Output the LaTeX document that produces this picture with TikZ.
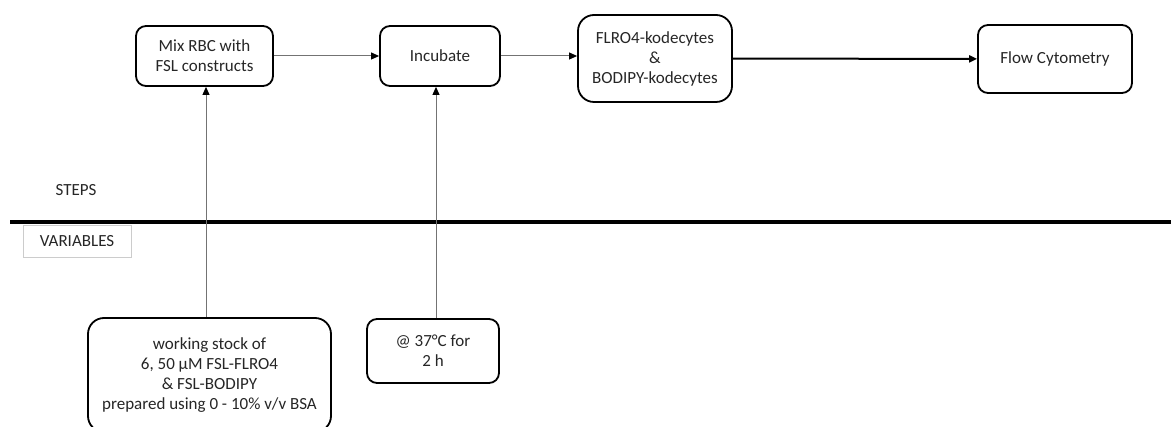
\documentclass[tikz,border=0pt]{standalone}
\usepackage{fontspec}
\setmainfont{Carlito}
\usetikzlibrary{arrows.meta}
\begin{document}
\begin{tikzpicture}[x=1pt,y=-1pt,
  every node/.style={font=\fontsize{17}{20}\selectfont, text=black!85, align=center, inner sep=0pt},
  stepbox/.style={draw=black, line width=1.8pt, rounded corners=10pt},
  bigbox/.style={draw=black, line width=1.8pt, rounded corners=16pt},
  thinlink/.style={draw=black!55, line width=1pt, -{Triangle[length=8pt,width=7pt,fill=black,color=black]}},
  thicklink/.style={draw=black, line width=2pt, -{Triangle[length=8pt,width=7pt]}}]
\clip (0,0) rectangle (1171,427);
\fill[white] (0,0) rectangle (1171,427);

% process steps
\node[stepbox, minimum width=137pt, minimum height=60pt] (mix) at (204.5,56) {Mix RBC with\\FSL constructs};
\node[stepbox, minimum width=120pt, minimum height=60pt] (inc) at (440,56) {Incubate};
\node[bigbox, minimum width=154pt, minimum height=87pt] (kod) at (655,58.5) {FLRO4-kodecytes\\\&\\BODIPY-kodecytes};
\node[stepbox, minimum width=154pt, minimum height=68pt] (flow) at (1055,59) {Flow Cytometry};

% section labels and divider
\node (steps) at (76,190) {STEPS};
\coordinate (ruleL) at (10,222);
\coordinate (ruleR) at (1171,222);
\draw[line width=3.2pt] (ruleL) -- (ruleR);
\node[draw=black!20, line width=0.8pt, minimum width=108pt, minimum height=32pt] (vars) at (77,241) {VARIABLES};

% variables
\node[bigbox, minimum width=243pt, minimum height=114pt] (stock) at (209.5,375)
  {working stock of\\6, 50 µM FSL-FLRO4\\\& FSL-BODIPY\\prepared using 0 - 10\% v/v BSA};
\node[stepbox, minimum width=132pt, minimum height=64pt] (temp) at (433,351) {@ 37°C for\\2 h};

% connectors
\draw[thinlink] (mix) -- (inc);
\draw[thinlink] (inc.east) -- (kod.west |- inc.east);
\draw[thicklink] (kod) -- (flow);
\coordinate (xa) at (206,0);
\coordinate (xb) at (436,0);
\draw[thinlink] (stock.north -| xa) -- (mix.south -| xa);
\draw[thinlink] (temp.north -| xb) -- (inc.south -| xb);
\end{tikzpicture}
\end{document}
